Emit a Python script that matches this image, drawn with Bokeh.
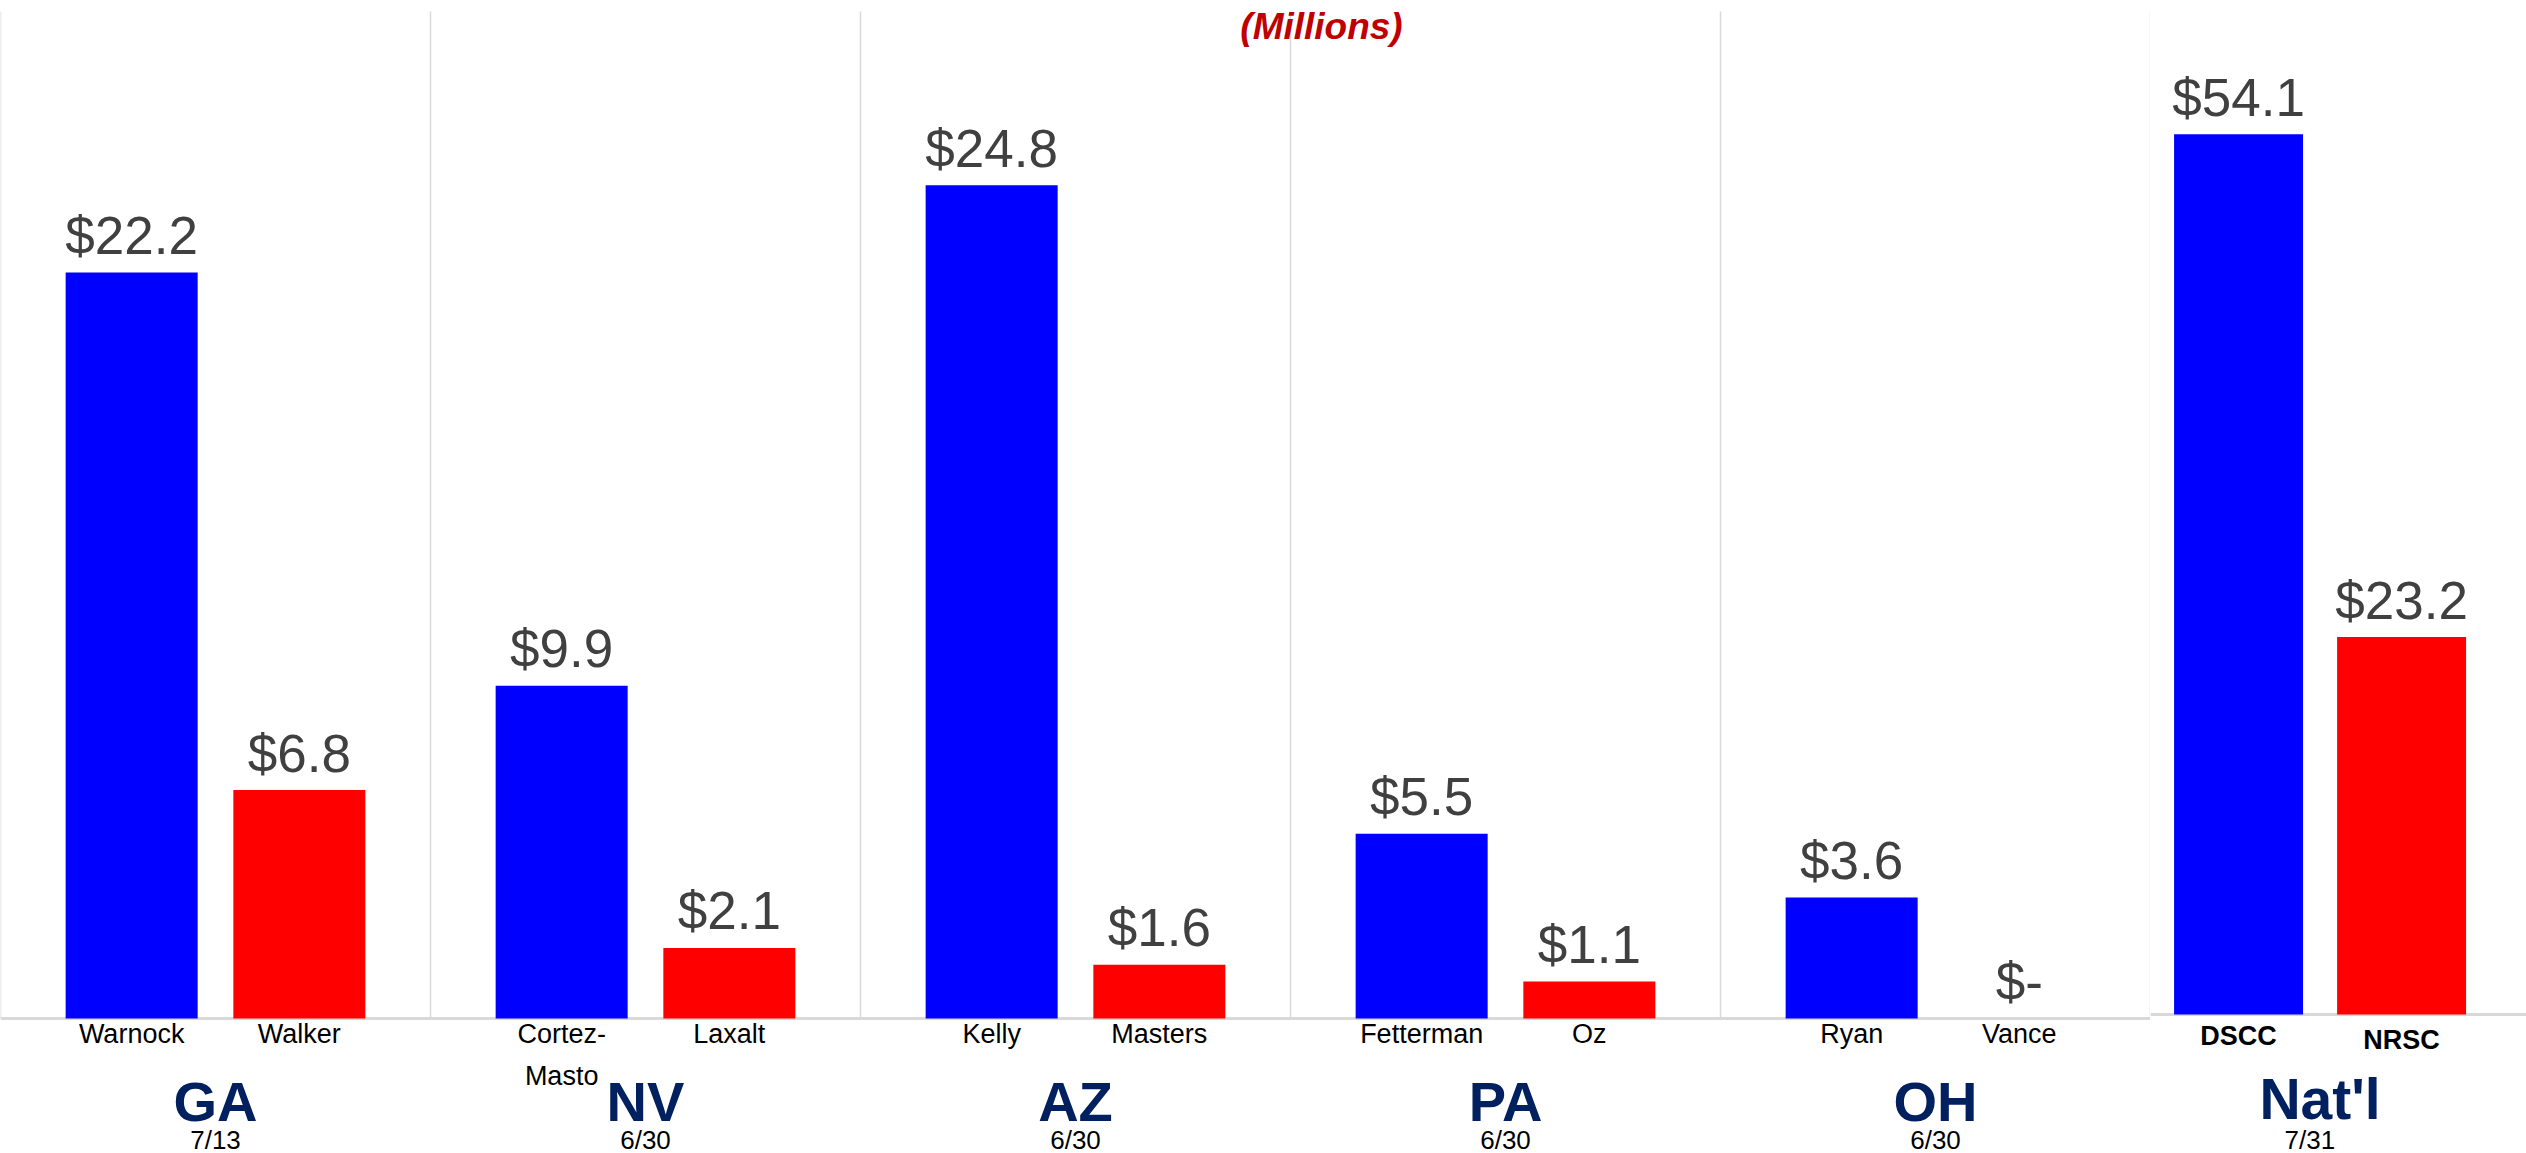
from bokeh.plotting import figure
from bokeh.models import FactorRange, Range1d, ColumnDataSource, Label
from bokeh.transform import dodge
from bokeh.layouts import row
from bokeh.core.properties import value
from bokeh.embed import file_html
from bokeh.resources import INLINE

# ---------------- data ----------------
states = ["GA", "NV", "AZ", "PA", "OH"]
dates = ["7/13", "6/30", "6/30", "6/30", "6/30"]
dem_names = ["Warnock", "Cortez-\nMasto", "Kelly", "Fetterman", "Ryan"]
rep_names = ["Walker", "Laxalt", "Masters", "Oz", "Vance"]
dem_cash = [22.2, 9.9, 24.8, 5.5, 3.6]
rep_cash = [6.8, 2.1, 1.6, 1.1, 0.0]

nat_group = ["Nat'l"]
nat_date = ["7/31"]
nat_dem_name = ["DSCC"]
nat_rep_name = ["NRSC"]
nat_dem_cash = [54.1]
nat_rep_cash = [23.2]

subtitle = "(Millions)"

# ---------------- styles ----------------
BLUE = "#0000FF"
RED = "#FF0000"
NAVY = "#002060"
VAL_COLOR = "#404040"
GRID = "#D9D9D9"
FONT = value("Liberation Sans")
H = 1153


def money(v):
    return "$%.1f" % v if v > 0 else "$-"


# ---------------- main chart ----------------
src = ColumnDataSource(dict(
    state=states, date=dates, dname=dem_names, rname=rep_names,
    dem=dem_cash, rep=rep_cash,
    dlab=[money(v) for v in dem_cash], rlab=[money(v) for v in rep_cash],
    zero=[0] * len(states),
))

px_per_m = 33.6
base_px = 1018
p = figure(x_range=FactorRange(*states, range_padding=0),
           y_range=Range1d(-(H - base_px) / px_per_m, base_px / px_per_m),
           width=2150, height=H, output_backend="svg", toolbar_location=None,
           min_border=0, x_axis_location=None, y_axis_location=None)
p.grid.visible = False
p.outline_line_color = None

bounds = list(range(len(states) + 1))
p.segment(x0=bounds, y0=[0] * len(bounds), x1=bounds,
          y1=[p.y_range.end - 0.33] * len(bounds), line_color=GRID, line_width=1.5)
p.segment(x0=[bounds[0]], y0=[0], x1=[bounds[-1]], y1=[0],
          line_color=GRID, line_width=3)

OFF = 0.195
BW = 0.307
p.vbar(x=dodge("state", -OFF, range=p.x_range), top="dem", bottom=0, width=BW,
       source=src, fill_color=BLUE, line_color=None)
p.vbar(x=dodge("state", OFF, range=p.x_range), top="rep", bottom=0, width=BW,
       source=src, fill_color=RED, line_color=None)

val_kw = dict(text_align="center", text_baseline="alphabetic", y_offset=-37,
              text_font_size="53px", text_color=VAL_COLOR, text_font=FONT, source=src)
p.text(x=dodge("state", -OFF, range=p.x_range), y="dem", text="dlab", **val_kw)
p.text(x=dodge("state", OFF, range=p.x_range), y="rep", text="rlab", **val_kw)

name_kw = dict(text_align="center", text_baseline="top", y_offset=0,
               text_font_size="27px", text_color="black", text_font=FONT,
               text_line_height=1.4, source=src)
p.text(x=dodge("state", -OFF, range=p.x_range), y="zero", text="dname", **name_kw)
p.text(x=dodge("state", OFF, range=p.x_range), y="zero", text="rname", **name_kw)

p.text(x="state", y="zero", text="state", y_offset=83, text_align="center",
       text_baseline="alphabetic", text_font_size="56px", text_font_style="bold",
       text_color=NAVY, text_font=FONT, source=src)
p.text(x="state", y="zero", text="date", y_offset=121, text_align="center",
       text_baseline="alphabetic", text_font_size="26px", text_color="black",
       text_font=FONT, source=src)

p.add_layout(Label(x=1321, y=H - 26, x_units="screen", y_units="screen",
                   text=subtitle, text_align="center", text_baseline="alphabetic",
                   text_font_size="37px", text_font_style="bold italic",
                   text_color="#C00000", text_font="Liberation Sans"))

# ---------------- national committees ----------------
nsrc = ColumnDataSource(dict(
    grp=nat_group, date=nat_date, dname=nat_dem_name, rname=nat_rep_name,
    dem=nat_dem_cash, rep=nat_rep_cash,
    dlab=[money(v) for v in nat_dem_cash], rlab=[money(v) for v in nat_rep_cash],
    zero=[0],
))
n_px_per_m = 16.27
n_base_px = 1014
q = figure(x_range=FactorRange(*nat_group, range_padding=0),
           y_range=Range1d(-(H - n_base_px) / n_px_per_m, n_base_px / n_px_per_m),
           width=376, height=H, output_backend="svg", toolbar_location=None,
           min_border=0, x_axis_location=None, y_axis_location=None)
q.grid.visible = False
q.outline_line_color = None

q.segment(x0=[0], y0=[0], x1=[1], y1=[0], line_color=GRID, line_width=3)

SHIFT = -0.049
NOFF = 0.2168
NBW = 0.343
q.vbar(x=dodge("grp", SHIFT - NOFF, range=q.x_range), top="dem", bottom=0, width=NBW,
       source=nsrc, fill_color=BLUE, line_color=None)
q.vbar(x=dodge("grp", SHIFT + NOFF, range=q.x_range), top="rep", bottom=0, width=NBW,
       source=nsrc, fill_color=RED, line_color=None)

nval_kw = dict(val_kw)
nval_kw["source"] = nsrc
q.text(x=dodge("grp", SHIFT - NOFF, range=q.x_range), y="dem", text="dlab", **nval_kw)
q.text(x=dodge("grp", SHIFT + NOFF, range=q.x_range), y="rep", text="rlab", **nval_kw)

nname_kw = dict(text_align="center", text_baseline="alphabetic",
                text_font_size="27px", text_font_style="bold", text_color="black",
                text_font=FONT, source=nsrc)
q.text(x=dodge("grp", SHIFT - NOFF, range=q.x_range), y="zero", text="dname",
       y_offset=21, **nname_kw)
q.text(x=dodge("grp", SHIFT + NOFF, range=q.x_range), y="zero", text="rname",
       y_offset=25, **nname_kw)

q.text(x=dodge("grp", SHIFT, range=q.x_range), y="zero", text="grp", y_offset=84,
       text_align="center", text_baseline="alphabetic", text_font_size="57px",
       text_font_style="bold", text_color=NAVY, text_font=FONT, source=nsrc)
q.text(x=dodge("grp", SHIFT - 0.027, range=q.x_range), y="zero", text="date",
       y_offset=125, text_align="center", text_baseline="alphabetic",
       text_font_size="26px", text_color="black", text_font=FONT, source=nsrc)

layout = row(p, q, spacing=0)
open("out.html", "w").write(file_html(layout, INLINE))
